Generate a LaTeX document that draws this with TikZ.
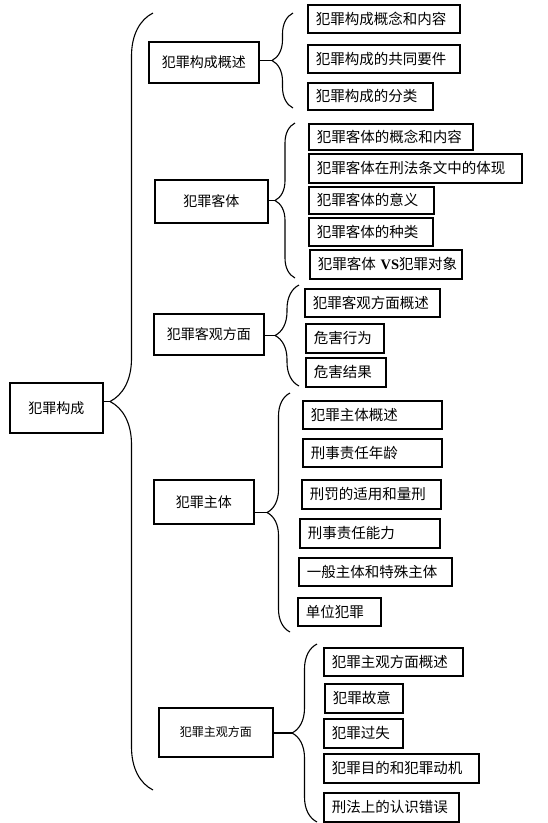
\documentclass[tikz,border=0pt]{standalone}
\usepackage{fontspec}
\setmainfont{Noto Sans CJK SC}
\newfontfamily\vsfont{Liberation Serif}
\usetikzlibrary{positioning, calc, decorations.pathreplacing}
\tikzstyle{box} = [draw=black, line width=1.6pt, anchor=north west, inner sep=0pt]
\tikzstyle{topic} = [box, align=center, font=\fontsize{14}{16}\selectfont]
\tikzstyle{item} = [box, inner xsep=8pt, align=left, font=\fontsize{14.5}{17}\selectfont]
\tikzstyle{link} = [line width=1.6pt, draw=black]
\tikzstyle{curly} = [line width=1.1pt, draw=black, decorate]

\begin{document}
\begin{tikzpicture}[x=1pt, y=-1pt]
        \useasboundingbox (0,0) rectangle (548,823);

        % root and main topics
        \node (root) [topic, minimum width=93, minimum height=50] at (9,382) {犯罪构成};
        \node (A) [topic, minimum width=110, minimum height=41] at (148,41) {犯罪构成概述};
        \node (B) [topic, minimum width=113, minimum height=43] at (154,179) {犯罪客体};
        \node (C) [topic, minimum width=110, minimum height=41] at (153,313) {犯罪客观方面};
        \node (D) [topic, minimum width=100, minimum height=44] at (153,479) {犯罪主体};
        \node (E) [topic, minimum width=114, minimum height=49, font=\fontsize{12}{14}\selectfont] at (158,707) {犯罪主观方面};

        % items
        \node (A1) [item, text width=136, minimum height=28] at (307,4) {犯罪构成概念和内容};
        \node (A2) [item, text width=136, minimum height=28] at (307,44) {犯罪构成的共同要件};
        \node (A3) [item, text width=109, minimum height=27] at (307,82) {犯罪构成的分类};

        \node (B1) [item, text width=148, minimum height=26] at (308,123) {犯罪客体的概念和内容};
        \node (B2) [item, text width=197, minimum height=29] at (308,153) {犯罪客体在刑法条文中的体现};
        \node (B3) [item, text width=109, minimum height=27] at (308,186) {犯罪客体的意义};
        \node (B4) [item, text width=108, minimum height=28] at (308,217) {犯罪客体的种类};
        \node (B5) [item, text width=136, minimum height=29] at (309,249) {犯罪客体~{\vsfont\bfseries VS}犯罪对象};

        \node (C1) [item, text width=119, minimum height=28] at (304,288) {犯罪客观方面概述};
        \node (C2) [item, text width=62, minimum height=29] at (305,323) {危害行为};
        \node (C3) [item, text width=64, minimum height=29] at (305,357) {危害结果};

        \node (D1) [item, text width=123, minimum height=28] at (302,400) {犯罪主体概述};
        \node (D2) [item, text width=123, minimum height=28] at (302,438) {刑事责任年龄};
        \node (D3) [item, text width=123, minimum height=29] at (301,479) {刑罚的适用和量刑};
        \node (D4) [item, text width=124, minimum height=29] at (299,518) {刑事责任能力};
        \node (D5) [item, text width=137, minimum height=28] at (298,557) {一般主体和特殊主体};
        \node (D6) [item, text width=67, minimum height=28] at (297,597) {单位犯罪};

        \node (E1) [item, text width=123, minimum height=28] at (323,647) {犯罪主观方面概述};
        \node (E2) [item, text width=62, minimum height=29] at (324,683) {犯罪故意};
        \node (E3) [item, text width=63, minimum height=29] at (323,718) {犯罪过失};
        \node (E4) [item, text width=139, minimum height=29] at (323,753) {犯罪目的和犯罪动机};
        \node (E5) [item, text width=119, minimum height=29] at (323,792) {刑法上的认识错误};

        % brace ends
        \coordinate (Rtop) at (153,13);  \coordinate (Rbot) at (153,790);
        \coordinate (Atop) at (293,13);  \coordinate (Abot) at (293,108);
        \coordinate (Btop) at (295,123); \coordinate (Bbot) at (295,278);
        \coordinate (Ctop) at (299,285); \coordinate (Cbot) at (299,386);
        \coordinate (Dtop) at (290,393); \coordinate (Dbot) at (290,632);
        \coordinate (Etop) at (317,644); \coordinate (Ebot) at (317,822);

        % brace tips
        \coordinate (Rtip) at ($(Rtop)!0.5!(Rbot)+(-43,0)$);
        \coordinate (Atip) at ($(Atop)!0.5!(Abot)+(-21,0)$);
        \coordinate (Btip) at ($(Btop)!0.5!(Bbot)+(-20,0)$);
        \coordinate (Ctip) at ($(Ctop)!0.5!(Cbot)+(-24,0)$);
        \coordinate (Dtip) at ($(Dtop)!0.5!(Dbot)+(-23,0)$);
        \coordinate (Etip) at ($(Etop)!0.5!(Ebot)+(-25,0)$);

        \draw[curly, decoration={brace, amplitude=43pt}] (Rbot) -- (Rtop);
        \draw[curly, decoration={brace, amplitude=21pt}] (Abot) -- (Atop);
        \draw[curly, decoration={brace, amplitude=20pt}] (Bbot) -- (Btop);
        \draw[curly, decoration={brace, amplitude=24pt}] (Cbot) -- (Ctop);
        \draw[curly, decoration={brace, amplitude=23pt}] (Dbot) -- (Dtop);
        \draw[curly, decoration={brace, amplitude=25pt}] (Ebot) -- (Etop);

        \draw[link] (root.east |- Rtip) -- (Rtip);
        \draw[link] (A.east |- Atip) -- (Atip);
        \draw[link] (B.east |- Btip) -- (Btip);
        \draw[link] (C.east |- Ctip) -- (Ctip);
        \draw[link] (D.east |- Dtip) -- (Dtip);
        \draw[link] (E.east |- Etip) -- (Etip);

    \end{tikzpicture}
\end{document}
